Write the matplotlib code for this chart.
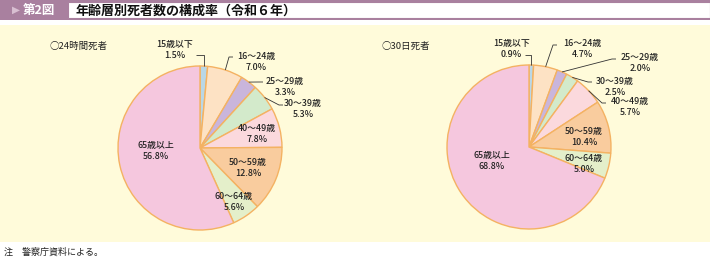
import matplotlib
matplotlib.use("Agg")
import matplotlib.pyplot as plt
from matplotlib.patches import Rectangle
import numpy as np

plt.rcParams['font.family'] = ['Noto Sans CJK JP', 'DejaVu Sans']

# ---- data ----
categories = ["15歳以下", "16～24歳", "25～29歳", "30～39歳", "40～49歳", "50～59歳", "60～64歳", "65歳以上"]
values_24h = [1.5, 7.0, 3.3, 5.3, 7.8, 12.8, 5.6, 56.8]
values_30d = [0.9, 4.7, 2.0, 2.5, 5.7, 10.4, 5.0, 68.8]
colors = ["#B9D7E6", "#FDE2C4", "#C9B5DB", "#D3EACB", "#FBD9DD", "#F9CC9E", "#E4EFCA", "#F5C7DE"]
title = "年齢層別死者数の構成率（令和６年）"
fig_label = "第2図"
subtitles = ["○24時間死者", "○30日死者"]
note = "注　警察庁資料による。"

W, H = 710, 265
fig = plt.figure(figsize=(W / 100, H / 100), dpi=100)
ax = fig.add_axes([0, 0, 1, 1])

def Y(y):
    return H - y

# ---- background & header ----
ax.add_patch(Rectangle((0, Y(20)), W, 20, color="#A9809F", lw=0))
ax.add_patch(Rectangle((68, Y(18)), W - 68, 16, facecolor="white", edgecolor="#A9809F", lw=0.8))
ax.add_patch(Rectangle((0, Y(242)), W, 242 - 25, color="#FFFBDA", lw=0))
ax.text(12, Y(10), "▶", color="#D9BFD2", fontsize=7.5, va="center", ha="left", family=['DejaVu Sans'])
ax.text(23, Y(10.5), fig_label, color="white", fontsize=9, va="center", ha="left", fontweight="bold")
ax.text(76, Y(10.5), title, color="#111111", fontsize=9.4, va="center", ha="left", fontweight="bold")
ax.text(4, Y(252), note, color="#222222", fontsize=6.5, va="center", ha="left")

# ---- pies ----
centers = [(200, 148), (529, 147)]
R = 82
edge = "#F4B262"

# label layout: (x, y, ha, leader kind, leader start)
layouts = [
    [
        (193, 50, "right", "elbow_v", (196, 55)),
        (256, 62, "center", "diag", (233, 57)),
        (285, 87, "center", "diag", (263, 82)),
        (303, 109, "center", "diag", (283, 105)),
        (257, 134, "center", None, None),
        (248, 168, "center", None, None),
        (234, 202, "center", None, None),
        (156, 151, "center", None, None),
    ],
    [
        (530, 49, "right", "elbow_v", (525, 55)),
        (582, 49, "center", "diag", (557, 45)),
        (640, 63, "center", "diag", (616, 59)),
        (615, 87, "center", "diag", (592, 82)),
        (630, 107, "center", "diag", (606, 103)),
        (584, 137, "center", None, None),
        (584, 164, "center", None, None),
        (492, 161, "center", None, None),
    ],
]

for (cx, cy), vals, lay, sub, sx in zip(centers, [values_24h, values_30d], layouts, subtitles, [50, 381]):
    ax.pie(vals, colors=colors, startangle=90, counterclock=False, center=(cx, Y(cy)), radius=R,
           wedgeprops=dict(edgecolor=edge, linewidth=1.0), frame=True)
    ax.text(sx, Y(46), sub, fontsize=6.8, va="center", ha="left", color="#222222")
    total = sum(vals)
    cum = 0.0
    for cat, v, (tx, ty, ha, kind, lp) in zip(categories, vals, lay):
        mid = 90 - (cum + v / 2) / total * 360
        cum += v
        ax.text(tx, Y(ty), f"{cat}\n{v:.1f}%", fontsize=6.4, ha=ha, va="center",
                multialignment="center", linespacing=1.15, color="#222222", fontweight="medium")
        if kind is None:
            continue
        px = cx + R * np.cos(np.radians(mid))
        py = cy - R * np.sin(np.radians(mid))
        if kind == "elbow_v":
            xs = [lp[0], px, px]
            ys = [lp[1], lp[1], py]
        else:
            xs = [lp[0], lp[0] - 4, px]
            ys = [lp[1], lp[1], py]
        ax.plot(xs, [Y(y) for y in ys], color="#333333", lw=0.6, solid_capstyle="butt")

ax.set_xlim(0, W)
ax.set_ylim(0, H)
ax.set_aspect("auto")
ax.axis("off")
fig.savefig("out.png", dpi=100)
